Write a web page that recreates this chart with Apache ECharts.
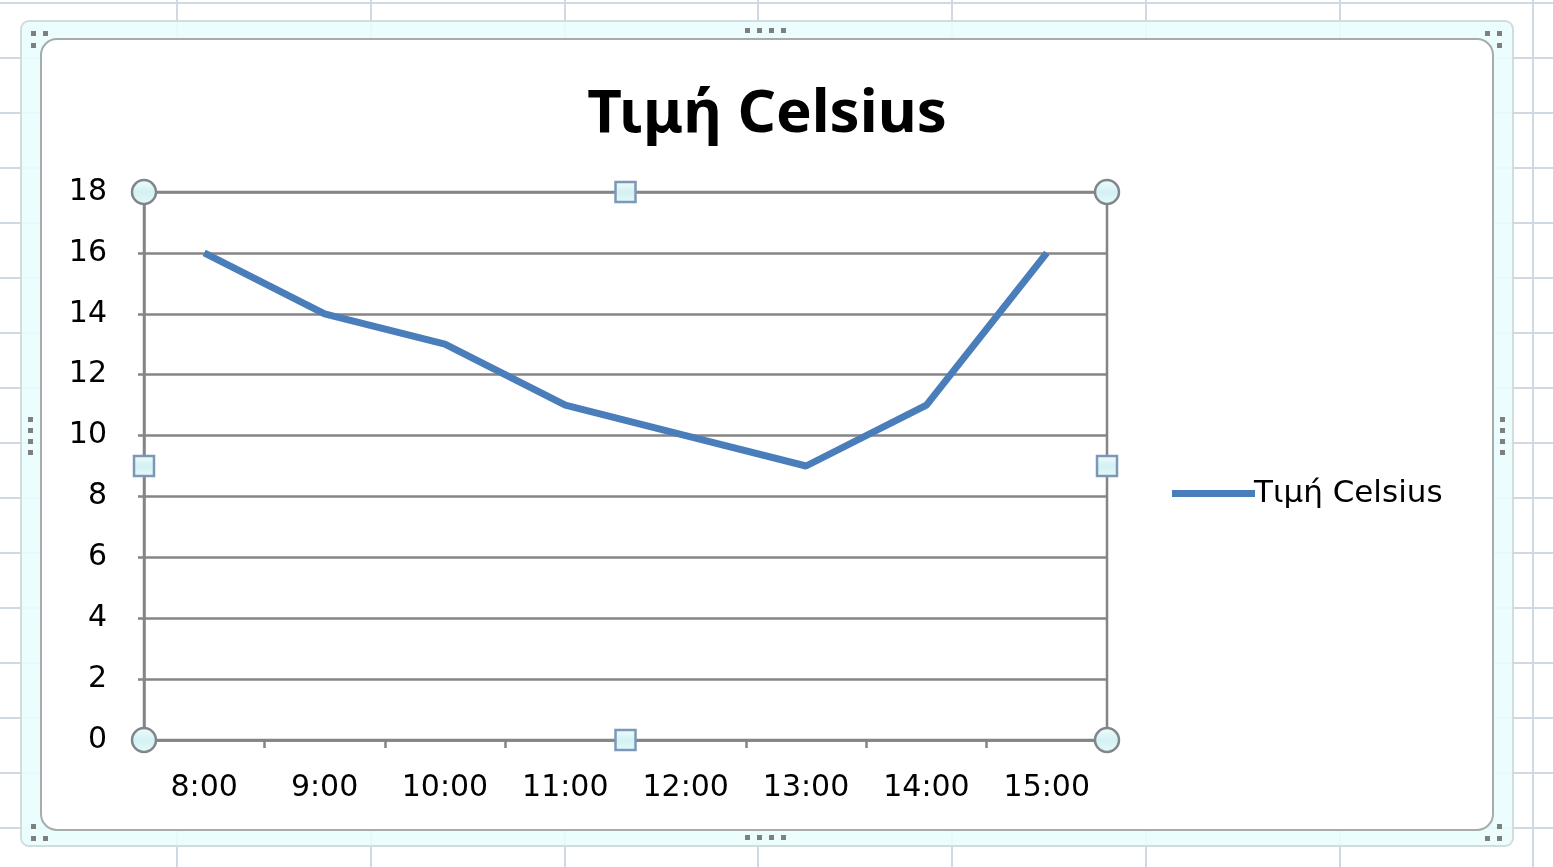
<!DOCTYPE html>
<html>
<head>
<meta charset="utf-8">
<script src="https://cdn.jsdelivr.net/npm/echarts@6/dist/echarts.min.js"></script>
<style>
html,body{margin:0;padding:0;background:#fff;}
#c{width:1553px;height:867px;}
</style>
</head>
<body>
<div id="c"></div>
<script>
const titleText = 'Τιμή Celsius';
const seriesName = 'Τιμή Celsius';
const categories = ['8:00','9:00','10:00','11:00','12:00','13:00','14:00','15:00'];
const values = [16, 14, 13, 11, 10, 9, 11, 16];
const yMin = 0, yMax = 18, yInterval = 2;

const GL = 144, GT = 192, GW = 963, GH = 548;
const GR = GL + GW, GB = GT + GH;
const lineCol = '#858585';
const seriesCol = '#4a7ebb';

const chart = echarts.init(document.getElementById('c'), null, {renderer:'canvas'});

const g = [];
// spreadsheet gridlines in the background
const sheetCol = '#d0d8e4';
[177, 371, 565, 758, 952, 1146, 1340, 1533].forEach(x => g.push({type:'line', z:-20, silent:true, shape:{x1:x,y1:0,x2:x,y2:867}, style:{stroke:sheetCol, lineWidth:2}}));
for (let y = 3; y < 867; y += 55) g.push({type:'line', z:-20, silent:true, shape:{x1:0,y1:y,x2:1553,y2:y}, style:{stroke:sheetCol, lineWidth:2}});
// chart frame band
g.push({type:'rect', z:-15, silent:true, shape:{x:21,y:21,width:1492,height:825,r:8}, style:{fill:'rgba(233,253,253,0.88)', stroke:'#d2dcdc', lineWidth:2}});
// inner white chart area
g.push({type:'rect', z:-10, silent:true, shape:{x:41,y:39,width:1452,height:791,r:[16,16,16,16]}, style:{fill:'#ffffff', stroke:'#a6acac', lineWidth:2}});
// frame dots
const dot = (x,y) => g.push({type:'rect', z:50, silent:true, shape:{x:x,y:y,width:5,height:5}, style:{fill:'#7f7f7f'}});
dot(31,31); dot(43,31); dot(31,43);
dot(1485,31); dot(1497,31); dot(1497,43);
dot(31,836); dot(31,824); dot(43,836);
dot(1485,836); dot(1497,836); dot(1497,824);
[745,757,769,781].forEach(x => { dot(x,28); dot(x,835); });
[417,428,439,450].forEach(y => { dot(28,y); dot(1500,y); });
// plot-area selection handles
const handleFill = {type:'linear', x:0, y:0, x2:0, y2:1, colorStops:[{offset:0,color:'#f2fdfd'},{offset:0.5,color:'#d3f1f3'},{offset:1,color:'#e6fafb'}]};
[[GL,GT],[GR,GT],[GL,GB],[GR,GB]].forEach(p => g.push({type:'circle', z:60, silent:true, shape:{cx:p[0],cy:p[1],r:12}, style:{fill:handleFill, stroke:'#80868c', lineWidth:2.5}}));
const midX = (GL+GR)/2 + 0, midY = (GT+GB)/2;
[[midX,GT],[midX,GB],[GL,midY],[GR,midY]].forEach(p => g.push({type:'rect', z:60, silent:true, shape:{x:p[0]-10,y:p[1]-10,width:20,height:20}, style:{fill:handleFill, stroke:'#7d98b6', lineWidth:2.5}}));

chart.setOption({
  animation:false,
  backgroundColor:'#ffffff',
  title:{
    text:titleText,
    left:762, top:80, textAlign:'center',
    textStyle:{fontFamily:'Noto Sans', fontWeight:'bold', fontSize:60, color:'#000'}
  },
  legend:{
    data:[seriesName],
    left:1167, top:473,
    icon:'rect', itemWidth:83, itemHeight:7, itemGap:4,
    textStyle:{fontFamily:'DejaVu Sans', fontSize:31, color:'#000', padding:[0,0,0,-6]}
  },
  grid:{left:GL, top:GT, width:GW, height:GH, show:true, borderColor:lineCol, borderWidth:2.5, backgroundColor:'transparent'},
  xAxis:{
    type:'category',
    data:categories,
    boundaryGap:true,
    axisLine:{lineStyle:{color:lineCol, width:2.5}},
    axisTick:{show:true, length:8, lineStyle:{color:lineCol, width:2.5}},
    axisLabel:{margin:33, fontFamily:'DejaVu Sans', fontSize:30, color:'#000'}
  },
  yAxis:{
    type:'value', min:yMin, max:yMax, interval:yInterval,
    axisLine:{show:true, lineStyle:{color:lineCol, width:2.5}},
    axisTick:{show:true, length:6, lineStyle:{color:lineCol, width:2.5}},
    splitLine:{show:true, lineStyle:{color:lineCol, width:2.5}},
    axisLabel:{margin:37, fontFamily:'DejaVu Sans', fontSize:30, color:'#000'}
  },
  series:[{
    name:seriesName,
    type:'line',
    data:values,
    symbol:'none',
    lineStyle:{color:seriesCol, width:7},
    itemStyle:{color:seriesCol},
    z:5
  }],
  graphic:g
});
</script>
</body>
</html>
